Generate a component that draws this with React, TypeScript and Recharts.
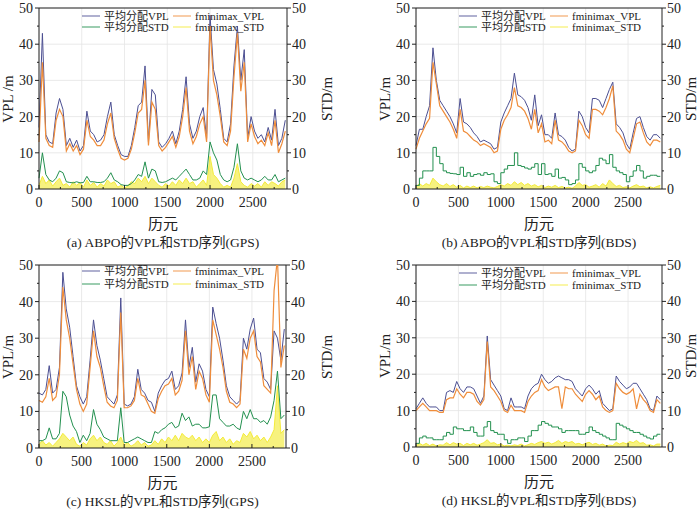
import React from 'react';
import {
  ComposedChart, Line, Area, XAxis, YAxis, CartesianGrid, ReferenceLine,
} from 'recharts';

// epochs sampled every 40 (0..2880)
const EPOCHS = Array.from({ length: 73 }, (_, i) => i * 40);
const X_TICKS = [0, 250, 500, 750, 1000, 1250, 1500, 1750, 2000, 2250, 2500, 2750];
const Y_TICKS = [0, 5, 10, 15, 20, 25, 30, 35, 40, 45, 50];

// (a) ABPO GPS
const aAvgVpl = [
  17, 43, 15, 13, 12.5, 21, 25, 22, 12, 14,
  11.5, 13.5, 10.5, 12, 21.5, 16, 15, 13, 13.5, 15,
  20, 24, 15, 12, 9.5, 9, 9, 12, 17, 23,
  24, 34, 13, 27.5, 26, 13, 11.5, 12.5, 14, 16,
  12.5, 16, 22, 31, 18, 14, 16, 20, 22.5, 14,
  48, 33, 29, 22, 14, 13, 18, 34, 45, 30,
  38.5, 14, 20, 16, 14, 15, 13, 17, 13.5, 22,
  12, 14, 19,
];
const aMinVpl = [
  13, 35, 14, 12, 11.5, 19, 22, 20, 10.5, 12.5,
  10.5, 12, 9.5, 11, 19, 14.5, 13.5, 12, 12, 13.5,
  18, 21, 14, 11, 8.5, 8, 8.5, 11, 15.5, 21,
  22, 30, 12, 24, 22, 12, 10.5, 11.5, 13, 14.5,
  11.5, 14.5, 20, 28, 16, 12.5, 14.5, 18, 20, 13,
  45, 30, 26, 20, 13, 12, 16, 31, 43, 27,
  35, 13, 18, 14.5, 12.5, 13.5, 12, 15.5, 12, 19,
  10, 12.5, 16,
];
const aAvgStd = [
  3, 10, 4, 2.5, 2, 3, 5, 4.5, 2, 1.8,
  1.7, 2, 1.7, 1.8, 3.5, 2, 2, 1.8, 1.8, 2,
  3, 4.5, 2.5, 2, 1.2, 1, 1, 1.5, 2.5, 4,
  3.5, 7.5, 3, 5.5, 5, 2, 1.8, 2, 2.5, 3,
  2.5, 3.5, 4.5, 5.5, 4, 2.5, 2.5, 3, 5, 4,
  13, 10, 8, 4, 2.5, 2, 2.5, 6, 12.5, 5,
  3, 2.5, 3, 2.5, 2, 2.5, 3.5, 2.5, 2.5, 4,
  2, 2.5, 3,
];
const aMinStd = [
  1, 3.5, 1.5, 2.5, 0.8, 2, 3, 1, 1.5, 0.5,
  2, 1, 1.8, 0.5, 2.5, 1, 1.8, 0.5, 1.5, 0.8,
  2.5, 1.5, 2, 0.5, 1, 0.3, 0.8, 2, 1.5, 3,
  2, 3.5, 1.5, 3, 2, 1, 0.5, 1.5, 0.8, 2,
  1, 2.5, 1.5, 3, 1.5, 2, 0.5, 1.5, 2.5, 1,
  9, 4, 3, 1.5, 0.5, 1, 0.5, 3, 7, 2,
  1, 0.5, 1.5, 0.8, 1.5, 0.5, 2, 1, 2, 1.5,
  0.8, 2, 2.5,
];

// (b) ABPO BDS
const bAvgVpl = [
  12, 16.5, 16.5, 20, 23, 39, 30, 24.5, 23, 21.5,
  20, 18, 15.5, 25, 18.5, 18, 17, 15.5, 14.5, 13,
  13.5, 13, 12.5, 11, 11.5, 18.5, 21, 23, 25, 32,
  26, 25.5, 24.5, 22.5, 19, 26, 17.5, 20.5, 15, 15,
  14, 21, 15, 14.5, 13.5, 11.5, 10.5, 11, 21.5, 20,
  17, 15.5, 25, 25, 24.5, 22.5, 25, 27.5, 29.5, 18,
  17, 15.5, 12.5, 11, 15.5, 19.5, 20, 17, 14.5, 13.5,
  15, 15, 14,
];
const bMinVpl = [
  11, 14, 16, 18, 19.5, 35, 29, 23, 21.5, 20,
  18.5, 16.5, 14, 22, 16, 15.5, 14.5, 13.5, 13, 12,
  12.5, 12, 11.5, 10, 10.5, 16.5, 19, 20.5, 22.5, 28,
  23, 22.5, 21.5, 19.5, 16.5, 22, 15.5, 18, 13, 13.5,
  12.5, 19, 13.5, 13, 12, 10.5, 10, 10.5, 19, 17.5,
  15, 14, 22, 22, 21.5, 20.5, 22.5, 25, 28.5, 16,
  15, 13.5, 11, 10, 14, 18, 18.5, 15.5, 13, 12,
  13.5, 13.5, 13,
];
const bAvgStd = [
  1, 3, 5, 5, 5, 11.5, 9, 7, 5, 4.5,
  4.3, 4.2, 4, 6, 3.5, 4.5, 3.5, 4, 4.2, 3.8,
  4.5, 4, 4.2, 2, 1.5, 4.5, 5.5, 6.5, 6.5, 10,
  6.5, 6.2, 5.8, 5.5, 6, 7, 4, 7, 4, 4.2,
  3.5, 5.5, 3, 3.2, 2.5, 1.2, 1.5, 2.5, 7, 6,
  5, 4.5, 5, 6.5, 8.5, 8, 7, 9.5, 6, 5,
  4.5, 4, 2, 3.5, 5, 6.5, 5, 3, 3.5, 3.8,
  3.8, 3.5, 3.5,
];
const bMinStd = [
  0.5, 1.5, 0.8, 1.5, 1, 3, 2, 1.2, 0.8, 1.5,
  0.7, 1.2, 0.5, 1, 0.3, 0.8, 0.4, 0.8, 0.3, 0.7,
  0.4, 0.8, 0.5, 0.3, 0.7, 1.2, 0.8, 1.5, 1, 2,
  1.2, 1.8, 1, 1.5, 0.8, 1.2, 0.6, 1, 0.4, 0.8,
  0.5, 1, 0.4, 0.7, 0.3, 0.5, 0.2, 0.8, 1.8, 1,
  1.2, 0.5, 0.8, 1.2, 0.5, 1.5, 0.8, 2.5, 1.5, 0.7,
  1, 0.4, 0.6, 0.3, 0.8, 1.2, 0.6, 0.8, 0.3, 0.6,
  0.3, 0.7, 1,
];

// (c) HKSL GPS
const cAvgVpl = [
  15, 14.5, 16, 22.5, 15, 16, 22, 48, 38, 33,
  25, 17, 14, 12, 14, 24, 35, 28, 24, 19,
  14, 13, 12, 14.5, 41, 12, 11.5, 12, 14, 21.5,
  16, 15, 13, 12.5, 10, 15, 17, 18.5, 19, 21,
  16, 17, 20.5, 35, 22, 27.5, 18, 23, 21, 16,
  14, 38.5, 34, 30, 24, 17, 14, 13, 12, 13,
  30, 27, 32.5, 35.5, 27, 26, 19, 18, 16, 32,
  30, 24, 32.5,
];
const cMinVpl = [
  13, 12.5, 14, 19, 13, 14, 20, 44, 35, 30,
  23, 16, 12, 10, 12, 22, 32, 25, 22, 17,
  12.5, 11.5, 11, 13, 37, 11, 11, 11.5, 13, 19,
  14.5, 14, 12, 10, 9.5, 13.5, 15.5, 17, 17.5, 19,
  14.5, 15.5, 18.5, 32, 20, 25, 16, 21, 19, 14.5,
  12.5, 35, 31, 27, 22, 15.5, 12.5, 12, 11, 12,
  27, 24.5, 30, 32, 25, 23.5, 17, 16, 15, 43,
  52, 22, 28,
];
const cAvgStd = [
  2, 2, 2.5, 5.5, 2.5, 2.5, 4, 15.5, 14, 9,
  6, 4.5, 1.5, 3.5, 2, 4, 10.5, 6.5, 5, 3,
  2.5, 2, 2, 2, 11, 1.5, 1.5, 2, 2.5, 3,
  2.5, 2, 1.5, 1.5, 4.5, 4, 5, 5.5, 6.5, 7,
  5.5, 6, 9.5, 7.5, 8.5, 6, 6.5, 6.5, 5.5, 5.5,
  5.8, 14.5, 14.5, 8, 7, 6, 6, 6.5, 5.5, 5,
  10, 8, 10.5, 8, 8, 7, 7.5, 6.5, 8.5, 13,
  21, 8, 9,
];
const cMinStd = [
  1, 2, 0.8, 1.5, 0.5, 1.5, 2.5, 4, 3, 2,
  3, 1, 0.5, 1.5, 0.8, 2.5, 3.5, 2, 3, 1.5,
  1, 2, 0.5, 1.5, 3, 0.8, 1.5, 0.5, 1, 2,
  0.8, 1.5, 0.5, 0.8, 2, 1, 2.5, 1.5, 3, 2,
  3.5, 2, 4, 3, 2.5, 3.5, 2, 3, 1.5, 2.5,
  1.5, 3.5, 4.5, 2, 3, 1.5, 2.5, 1, 2, 1.5,
  4, 3, 4.5, 2.5, 3.5, 2, 3, 1.5, 3, 5,
  17, 4, 5,
];

// (d) HKSL BDS
const dAvgVpl = [
  10.5, 12, 13.5, 12, 11, 11, 11, 10, 10, 15,
  15.5, 15, 18, 16, 15, 16.5, 16.5, 16, 14, 12,
  14, 30.5, 18.5, 17, 15.5, 14, 10.5, 10, 13.5, 11,
  11, 11, 10.5, 14, 16, 17, 17.5, 20, 18.5, 17.5,
  18, 19, 19.5, 19, 18.5, 18.5, 18, 16, 15, 14,
  16, 17, 16, 14.5, 15.5, 12, 11, 10, 10.5, 19.5,
  18, 17, 16, 16.5, 17.5, 17.5, 16, 14.5, 13, 10.5,
  10, 14, 13,
];
const dMinVpl = [
  10, 11, 12, 11, 10, 10, 10, 9.5, 9.5, 13,
  13.5, 13.5, 16, 14.5, 13.5, 15, 15, 14.5, 12.5, 11.5,
  13, 29, 16.5, 15.5, 14, 12.5, 10, 9.5, 11.5, 10,
  10, 10, 9.5, 12.5, 14, 15, 15.5, 18.5, 16.5, 15.5,
  16, 16.5, 16.5, 10.5, 16.5, 16, 16, 14.5, 13.5, 12.5,
  14.5, 15.5, 14.5, 13, 14, 11, 10, 9.5, 10, 17.5,
  16, 15, 14.5, 15, 16, 10.5, 14.5, 13, 12, 10,
  9.5, 13, 12,
];
const dAvgStd = [
  1, 2.5, 3, 2.5, 2.5, 2, 2, 2, 3, 4,
  3.5, 5.5, 5, 5, 4.5, 4.5, 5.5, 4, 3, 3,
  5.5, 7, 4.5, 4, 3.5, 3.5, 2, 1, 2, 2,
  2.5, 2.5, 1.5, 3, 4.5, 4.5, 6, 7, 6.5, 6,
  5.5, 5.5, 5, 4, 4.5, 4.5, 4.5, 4.5, 3.5, 3.5,
  4, 5.5, 4.5, 4, 3.5, 3, 2.5, 2, 2, 6.5,
  6, 5.5, 5, 4.5, 4, 4, 3.5, 3, 2.5, 2.2,
  3, 3.5, 3.5,
];
const dMinStd = [
  0.3, 1, 0.5, 1, 0.4, 0.8, 0.3, 0.6, 0.5, 1.2,
  0.6, 1.2, 0.8, 1, 0.4, 1, 0.6, 1, 0.5, 0.8,
  1.2, 2, 1, 1.2, 0.6, 0.8, 0.3, 0.5, 0.3, 0.6,
  0.4, 0.8, 0.3, 0.6, 1, 0.7, 1.2, 1.5, 1, 1.3,
  0.8, 1.2, 1.8, 1, 1.5, 1.2, 1.5, 0.8, 1, 0.6,
  1, 1.3, 0.7, 1, 0.5, 0.8, 0.3, 0.5, 0.4, 1.3,
  0.8, 1.2, 0.9, 1.5, 1.2, 1.8, 1, 1.2, 0.5, 0.6,
  0.3, 0.8, 0.8,
];

const BLUE = '#4c4f92';
const ORANGE = '#ef8d3b';
const GREEN = '#23904f';
const YELLOW = '#f3eb3a';
const INK = '#222';
const SERIF = '"Liberation Serif", "Times New Roman", "Noto Sans CJK SC", serif';

const build = (avgVpl: number[], minVpl: number[], avgStd: number[], minStd: number[]) =>
  EPOCHS.map((epoch, i) => ({
    epoch,
    avgVpl: avgVpl[i],
    minVpl: minVpl[i],
    avgStd: avgStd[i],
    minStd: minStd[i],
  }));

// custom ticks: major ticks labelled, minor ones just a short mark
const LeftTick = ({ x, y, payload }: any) => {
  const major = payload.value % 10 === 0;
  return (
    <g>
      <line x1={x} x2={x - (major ? 4 : 2)} y1={y} y2={y} stroke={INK} />
      {major && <text x={x - 6} y={y} dy="0.35em" textAnchor="end" fontSize={14} fontFamily={SERIF} fill={INK}>{payload.value}</text>}
    </g>
  );
};
const RightTick = ({ x, y, payload }: any) => {
  const major = payload.value % 10 === 0;
  return (
    <g>
      <line x1={x} x2={x + (major ? 4 : 2)} y1={y} y2={y} stroke={INK} />
      {major && <text x={x + 5} y={y} dy="0.35em" textAnchor="start" fontSize={14} fontFamily={SERIF} fill={INK}>{payload.value}</text>}
    </g>
  );
};
const BottomTick = ({ x, y, payload }: any) => {
  const major = payload.value % 500 === 0;
  return (
    <g>
      <line x1={x} x2={x} y1={y} y2={y - (major ? 4 : 2)} stroke={INK} />
      {major && <text x={x} y={y + 8} dy="0.71em" textAnchor="middle" fontSize={14} fontFamily={SERIF} fill={INK}>{payload.value}</text>}
    </g>
  );
};

type PanelProps = {
  data: any[];
  left: number; top: number; right: number; bottom: number;
  vplLabel: string;
  caption: string;
  legendRows: [number, number];
  stdLabelX: number;
  stepStd?: boolean;
};

function LegendItem({ x, y, color, label }: { x: number; y: number; color: string; label: string }) {
  return (
    <div style={{ position: 'absolute', left: x, top: y - 7, height: 14, display: 'flex', alignItems: 'center', fontSize: 11, fontFamily: SERIF, color: INK, whiteSpace: 'nowrap', lineHeight: '14px' }}>
      <svg width={18} height={6} style={{ marginRight: 4, display: 'block' }}>
        <line x1={0} x2={18} y1={3} y2={3} stroke={color} strokeWidth={1.5} strokeOpacity={0.6} />
      </svg>
      <span>{label}</span>
    </div>
  );
}

function Panel({ data, left, top, right, bottom, vplLabel, caption, legendRows, stdLabelX, stepStd }: PanelProps) {
  const padL = 30;
  const padR = 30;
  const padT = 12;
  const chartW = right - left + padL + padR;
  const chartH = bottom - top + padT + 25;
  const cx = (left + right) / 2;
  const cy = (top + bottom) / 2;
  const labelStyle: React.CSSProperties = {
    position: 'absolute', width: 80, textAlign: 'center', transform: 'rotate(-90deg)',
    fontSize: 15, fontFamily: SERIF, color: INK, lineHeight: '20px', whiteSpace: 'nowrap',
  };

  return (
    <>
      <div style={{ position: 'absolute', left: left - padL, top: top - padT }}>
        <ComposedChart width={chartW} height={chartH} data={data} margin={{ top: padT, right: 0, bottom: 0, left: 0 }}>
          <CartesianGrid
            stroke="#e4e4e4" strokeWidth={0.8} yAxisId="left"
            verticalValues={[0, 500, 1000, 1500, 2000, 2500]}
            horizontalValues={[0, 10, 20, 30, 40, 50]}
          />
          <XAxis
            dataKey="epoch" type="number" domain={[0, 2900]} ticks={X_TICKS}
            tick={<BottomTick />} tickLine={false} tickSize={0} tickMargin={0} height={25}
            stroke={INK} interval={0}
          />
          <YAxis
            yAxisId="left" domain={[0, 50]} ticks={Y_TICKS} allowDataOverflow interval={0}
            width={padL} tick={<LeftTick />} tickLine={false} tickSize={0} tickMargin={0} stroke={INK}
          />
          <YAxis
            yAxisId="right" orientation="right" domain={[0, 50]} ticks={Y_TICKS} allowDataOverflow interval={0}
            width={padR} tick={<RightTick />} tickLine={false} tickSize={0} tickMargin={0} stroke={INK}
          />
          <ReferenceLine yAxisId="left" y={50} stroke={INK} />
          <Line yAxisId="left" dataKey="avgVpl" type="linear" stroke={BLUE} strokeWidth={1} dot={false} isAnimationActive={false} />
          <Line yAxisId="left" dataKey="minVpl" type="linear" stroke={ORANGE} strokeWidth={1.2} dot={false} isAnimationActive={false} />
          <Line yAxisId="right" dataKey="avgStd" type={stepStd ? 'stepAfter' : 'linear'} stroke={GREEN} strokeWidth={1} dot={false} isAnimationActive={false} />
          <Area yAxisId="right" dataKey="minStd" type="linear" stroke={YELLOW} strokeWidth={1} fill={YELLOW} fillOpacity={0.65} baseValue={0} dot={false} isAnimationActive={false} />
        </ComposedChart>
      </div>

      <LegendItem x={left + 43} y={top + legendRows[0]} color={BLUE} label="平均分配VPL" />
      <LegendItem x={left + 43} y={top + legendRows[1]} color={GREEN} label="平均分配STD" />
      <LegendItem x={left + 134} y={top + legendRows[0]} color={ORANGE} label="fminimax_VPL" />
      <LegendItem x={left + 134} y={top + legendRows[1]} color={YELLOW} label="fminimax_STD" />

      <div style={{ ...labelStyle, left: left - 71, top: cy - 10 }}>{vplLabel}</div>
      <div style={{ ...labelStyle, left: stdLabelX - 40, top: cy - 10 }}>STD/m</div>
      <div style={{ position: 'absolute', left: cx - 50, top: bottom + 26, width: 100, textAlign: 'center', fontSize: 15, fontFamily: SERIF, color: INK, lineHeight: '18px' }}>
        历元
      </div>
      <div style={{ position: 'absolute', left: cx - 150, top: bottom + 45, width: 300, textAlign: 'center', fontSize: 13.5, fontFamily: SERIF, color: INK, lineHeight: '18px', whiteSpace: 'nowrap' }}>
        {caption}
      </div>
    </>
  );
}

export default function App() {
  const dataA = build(aAvgVpl, aMinVpl, aAvgStd, aMinStd);
  const dataB = build(bAvgVpl, bMinVpl, bAvgStd, bMinStd);
  const dataC = build(cAvgVpl, cMinVpl, cAvgStd, cMinStd);
  const dataD = build(dAvgVpl, dMinVpl, dAvgStd, dMinStd);
  return (
    <div style={{ position: 'absolute', left: 0, top: 0, width: 700, height: 510, background: '#fff', overflow: 'hidden' }}>
      <Panel data={dataA} left={39} top={8} right={287} bottom={189} vplLabel="VPL /m" caption="(a) ABPO的VPL和STD序列(GPS)" legendRows={[8, 19]} stdLabelX={327} />
      <Panel data={dataB} left={416} top={8} right={662} bottom={189} vplLabel="VPL/m" caption="(b) ABPO的VPL和STD序列(BDS)" legendRows={[8, 19]} stdLabelX={691} stepStd />
      <Panel data={dataC} left={39} top={265} right={286} bottom={448} vplLabel="VPL/m" caption="(c) HKSL的VPL和STD序列(GPS)" legendRows={[6, 19]} stdLabelX={327} />
      <Panel data={dataD} left={416} top={265} right={662} bottom={447} vplLabel="VPL/m" caption="(d) HKSL的VPL和STD序列(BDS)" legendRows={[8, 20]} stdLabelX={691} stepStd />
    </div>
  );
}
